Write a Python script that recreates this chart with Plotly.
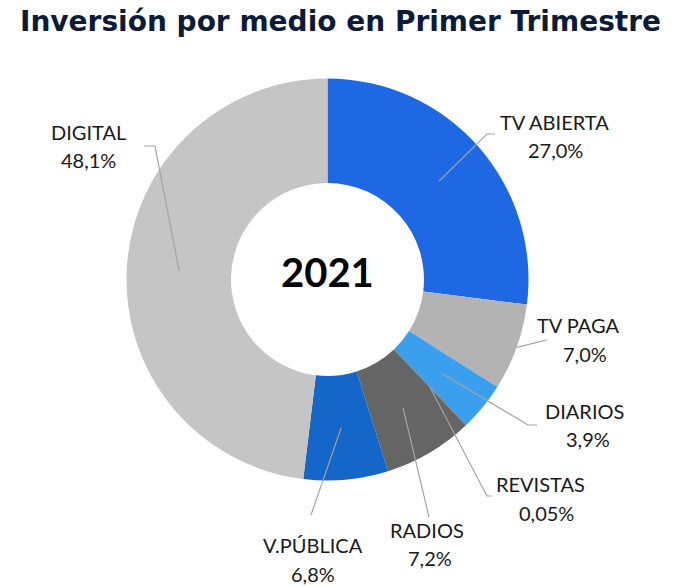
import math
import plotly.graph_objects as go

# ---- data ----
categories = ["TV ABIERTA", "TV PAGA", "DIARIOS", "REVISTAS", "RADIOS", "V.PÚBLICA", "DIGITAL"]
values = [27.0, 7.0, 3.9, 0.05, 7.2, 6.8, 48.1]
colors = ["#1f68e3", "#b3b3b3", "#3aa0ee", "#5a5a5a", "#656565", "#1466c9", "#c5c5c5"]
center_label = "2021"
title_text = "Inversión por medio en Primer Trimestre"

# ---- layout geometry (pixels) ----
W, H = 700, 587
CX, CY, R_OUT = 327.5, 279.5, 201.0
HOLE = 0.48
R_IN = R_OUT * HOLE
R_MID = (R_OUT + R_IN) / 2

def px(x):
    return x / W

def py(y):
    return 1 - y / H

def fmt_pct(v):
    s = f"{v:.2f}" if v < 0.1 else f"{v:.1f}"
    return s.replace(".", ",") + "%"

# label placement (style): name line center, percent line center, leader path points, anchor radius
label_style = {
    "TV ABIERTA": dict(t=(554, 122), p=(555, 150), path=[(487, 134), (495, 134)], r=R_MID),
    "TV PAGA":    dict(t=(578, 325), p=(585, 354), path=[(547, 340)], r=R_OUT),
    "DIARIOS":    dict(t=(584, 411), p=(588, 439), path=[(528, 425), (537, 425)], r=R_MID),
    "REVISTAS":   dict(t=(540, 484), p=(546, 513), path=[(487, 496), (492, 496)], r=R_MID),
    "RADIOS":     dict(t=(427, 530), p=(430, 558), path=[(429, 517)], r=R_MID),
    "V.PÚBLICA":  dict(t=(313, 545), p=(313, 574), path=[(311, 515)], r=R_MID),
    "DIGITAL":    dict(t=(88, 132), p=(88, 160), path=[(155, 146), (144, 146)], r=R_MID),
}

fig = go.Figure(go.Pie(
    labels=categories,
    values=values,
    hole=HOLE,
    sort=False,
    direction="clockwise",
    rotation=0,
    marker=dict(colors=colors, line=dict(width=0)),
    textinfo="none",
    hoverinfo="label+percent",
    showlegend=False,
    domain=dict(x=[px(CX - R_OUT), px(CX + R_OUT)],
                y=[py(CY + R_OUT), py(CY - R_OUT)]),
))

annotations = []
shapes = []
total = sum(values)
cum = 0.0
font_lbl = dict(family="Lato, 'Open Sans', sans-serif", size=20, color="#1a1a1a")
for cat, v in zip(categories, values):
    mid = 90 - (cum + v / 2) / total * 360
    cum += v
    st = label_style[cat]
    ax = CX + st["r"] * math.cos(math.radians(mid))
    ay = CY - st["r"] * math.sin(math.radians(mid))
    pts = [(ax, ay)] + st["path"]
    d = "M " + " L ".join(f"{px(x):.5f},{py(y):.5f}" for x, y in pts)
    shapes.append(dict(type="path", xref="paper", yref="paper", path=d,
                       line=dict(color="#a3a3a3", width=1.2)))
    annotations.append(dict(x=px(st["t"][0]), y=py(st["t"][1]), xref="paper", yref="paper",
                            text=cat, showarrow=False, xanchor="center", yanchor="middle",
                            font=font_lbl))
    annotations.append(dict(x=px(st["p"][0]), y=py(st["p"][1]), xref="paper", yref="paper",
                            text=fmt_pct(v), showarrow=False, xanchor="center", yanchor="middle",
                            font=font_lbl))

annotations.append(dict(x=px(CX), y=py(272), xref="paper", yref="paper", text=f"<b>{center_label}</b>",
                        showarrow=False, xanchor="center", yanchor="middle",
                        font=dict(family="Lato, sans-serif", size=40, color="#000000")))
annotations.append(dict(x=px(340), y=py(21), xref="paper", yref="paper", text=f"<b>{title_text}</b>",
                        showarrow=False, xanchor="center", yanchor="middle",
                        font=dict(family="'DejaVu Sans', Verdana, sans-serif", size=28, color="#0b1b38")))

fig.update_layout(
    width=W, height=H,
    margin=dict(l=0, r=0, t=0, b=0),
    paper_bgcolor="#ffffff",
    plot_bgcolor="#ffffff",
    annotations=annotations,
    shapes=shapes,
)

fig.write_html("out.html")
